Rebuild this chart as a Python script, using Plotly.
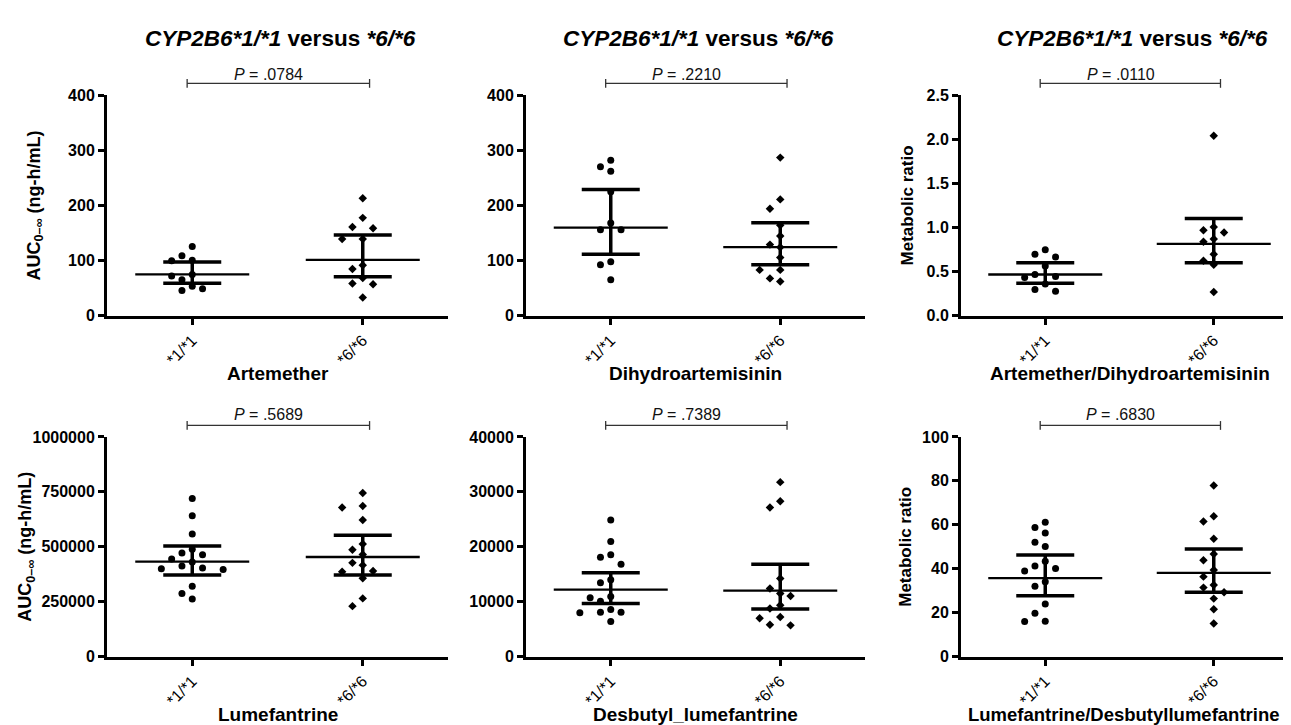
import plotly.graph_objects as go

W, H = 1291, 725
FONT = "Liberation Sans, Arial, sans-serif"

# ---------------- data ----------------
groups = ["*1/*1", "*6/*6"]
x_titles = ["Artemether", "Dihydroartemisinin", "Artemether/Dihydroartemisinin",
            "Lumefantrine", "Desbutyl_lumefantrine", "Lumefantrine/Desbutyllumefantrine"]
p_values = [".0784", ".2210", ".0110", ".5689", ".7389", ".6830"]
y_titles = ["AUC<sub>0–∞</sub> (ng-h/mL)", "", "Metabolic ratio",
            "AUC<sub>0–∞</sub> (ng-h/mL)", "", "Metabolic ratio"]
y_max = [400, 400, 2.5, 1000000, 40000, 100]
y_dtick = [100, 100, 0.5, 250000, 10000, 20]
y_format = ["d", "d", ".1f", "d", "d", "d"]

# Artemether AUC
art_11 = [125.7, 109, 100.9, 100, 74.9, 72, 65.5, 53.7, 49, 46]
art_66 = [213, 177.5, 161, 158.7, 139.2, 139.2, 91.5, 85, 68.5, 58.4, 57.2, 33]
# Dihydroartemisinin AUC
dha_11 = [282, 270, 262, 225, 168, 155.8, 155.8, 97.9, 92.6, 65.5]
dha_66 = [286.7, 211, 194, 164, 144.6, 129, 124.4, 105.6, 83.2, 83.2, 67.8, 62]
# Artemether / DHA ratio
mr1_11 = [0.749, 0.697, 0.667, 0.564, 0.468, 0.446, 0.435, 0.361, 0.299, 0.277]
mr1_66 = [2.04, 1.007, 0.97, 0.944, 0.87, 0.84, 0.697, 0.623, 0.579, 0.269]
# Lumefantrine AUC
lum_11 = [720000, 641000, 558500, 489000, 471000, 463700, 444400, 431000,
          412000, 403000, 400000, 397000, 320000, 287500, 262000]
lum_66 = [745000, 685900, 678500, 622000, 512600, 485900, 465000, 426700,
          416300, 389600, 386700, 357000, 265000, 229700]
# Desbutyl-lumefantrine AUC
dbl_11 = [24889, 20978, 18548, 18074, 16830, 13985, 13452, 10963, 10726,
          10100, 8592, 8059, 8059, 8000, 6400]
dbl_66 = [31763, 28267, 27141, 14222, 12385, 11496, 11022, 9363, 8770,
          7230, 6993, 5807, 5689]
# Lumefantrine / Desbutyl-lumefantrine ratio
mr2_11 = [61.2, 58.8, 56.3, 52.1, 50.1, 43.4, 41.2, 40.1, 39, 34.1, 32,
          23.9, 19.7, 16.1, 16]
mr2_66 = [77.9, 63.9, 61.5, 53.6, 46.7, 43.9, 39.4, 36.4, 32.6, 31.4, 29.3,
          26.4, 21.6, 15.1]

# summary lines: centre and interval per group
art_mean, art_lo, art_hi = [74.9, 101.5], [59, 70.8], [97.3, 146.3]
dha_mean, dha_lo, dha_hi = [159.9, 124.4], [111.5, 92.6], [228.9, 168.7]
mr1_mean, mr1_lo, mr1_hi = [0.468, 0.815], [0.369, 0.601], [0.601, 1.103]
lum_mean, lum_lo, lum_hi = [432600, 453300], [371800, 371800], [503700, 552600]
dbl_mean, dbl_lo, dbl_hi = [12207, 12030], [9660, 8652], [15289, 16830]
mr2_mean, mr2_lo, mr2_hi = [35.7, 38.1], [27.7, 29.3], [46.2, 49.0]

panels = [
    (art_11, art_66, art_mean, art_lo, art_hi),
    (dha_11, dha_66, dha_mean, dha_lo, dha_hi),
    (mr1_11, mr1_66, mr1_mean, mr1_lo, mr1_hi),
    (lum_11, lum_66, lum_mean, lum_lo, lum_hi),
    (dbl_11, dbl_66, dbl_mean, dbl_lo, dbl_hi),
    (mr2_11, mr2_66, mr2_mean, mr2_lo, mr2_hi),
]

# ---------------- layout geometry (pixels) ----------------
cols_px = [(99, 440), (518, 857), (953, 1290)]
rows_px = [(81, 307), (431, 656)]
title_y_px = 23.5
ptext_y_px = [60, 408.5]
pbar_y_px = [69, 419.3]
xtitle_y_px = [366, 715]
xtitle_dx = [0, 0, 0, 0, 0, -6]
ytitle_x_px = [27, None, 899, 19, None, 898]


def px_x(p):
    return p / W


def px_y(p):
    return 1 - p / H


def swarm(values, px_per_y, px_per_x, step_px=10.3, min_dist=10.5):
    order = sorted(range(len(values)), key=lambda i: -values[i])
    placed = []
    res = [0.0] * len(values)
    for i in order:
        yp = values[i] * px_per_y
        chosen = 0
        for k in [0, -1, 1, -2, 2, -3, 3, -4, 4]:
            if all(((k - s) * step_px) ** 2 + (yp - q) ** 2 >= min_dist ** 2 for s, q in placed):
                chosen = k
                break
        placed.append((chosen, yp))
        res[i] = chosen * step_px / px_per_x
    return res


fig = go.Figure()
layout = dict(
    width=W, height=H, margin=dict(l=0, r=0, t=0, b=0),
    paper_bgcolor="white", plot_bgcolor="white", showlegend=False,
    font=dict(family=FONT, color="black"),
)
annotations = []
shapes = []

for i, (g1, g2, mean, lo, hi) in enumerate(panels):
    r, c = divmod(i, 3)
    n = i + 1
    xa = "x" if n == 1 else f"x{n}"
    ya = "y" if n == 1 else f"y{n}"
    x0p, x1p = cols_px[c]
    y0p, y1p = rows_px[r]
    px_per_x = (x1p - x0p) / 2.0
    px_per_y = (y1p - y0p) / y_max[i]

    for gi, (vals, sym, sz) in enumerate([(g1, "circle", 7), (g2, "diamond", 6.5)]):
        offs = swarm(vals, px_per_y, px_per_x)
        fig.add_trace(go.Scatter(
            x=[gi + o for o in offs], y=vals, mode="markers", xaxis=xa, yaxis=ya,
            marker=dict(symbol=sym, size=sz, color="black", line=dict(width=0)),
            hoverinfo="y", cliponaxis=False))
        # mean line
        hw = 57 / px_per_x
        fig.add_trace(go.Scatter(
            x=[gi - hw, gi + hw], y=[mean[gi], mean[gi]], mode="lines",
            xaxis=xa, yaxis=ya, line=dict(color="black", width=2.3), hoverinfo="skip"))
        # interval bar
        cw = 29 / px_per_x
        fig.add_trace(go.Scatter(
            x=[gi - cw, gi + cw, None, gi, gi, None, gi - cw, gi + cw],
            y=[hi[gi], hi[gi], None, hi[gi], lo[gi], None, lo[gi], lo[gi]],
            mode="lines", xaxis=xa, yaxis=ya,
            line=dict(color="black", width=3.5), hoverinfo="skip"))

    axis_common = dict(showline=True, linewidth=3, linecolor="black", showgrid=False,
                       zeroline=False, ticks="outside", ticklen=6, tickwidth=3,
                       tickcolor="black")
    layout["xaxis" if n == 1 else f"xaxis{n}"] = dict(
        axis_common, domain=[px_x(x0p), px_x(x1p)], anchor=ya, range=[-0.5, 1.5],
        tickvals=[0, 1], ticktext=groups, tickangle=-45,
        tickfont=dict(family=FONT, size=16, color="black"))
    layout["yaxis" if n == 1 else f"yaxis{n}"] = dict(
        axis_common, domain=[px_y(y1p), px_y(y0p)], anchor=xa, range=[0, y_max[i]],
        dtick=y_dtick[i], tick0=0, tickformat=y_format[i],
        tickfont=dict(family=FONT, size=16, color="black", weight="bold"))

    cx = (x0p + x1p) / 2
    # row-1 titles
    if r == 0:
        annotations.append(dict(
            x=px_x(cx + 3), y=px_y(title_y_px), xref="paper", yref="paper",
            text="<i>CYP2B6*1/*1</i> versus <i>*6/*6</i>", showarrow=False,
            font=dict(family=FONT, size=22.5, color="black", weight="bold"),
            xanchor="center", yanchor="middle"))
    # x title
    annotations.append(dict(
        x=px_x(cx + xtitle_dx[i]), y=px_y(xtitle_y_px[r]), xref="paper", yref="paper",
        text=x_titles[i], showarrow=False,
        font=dict(family=FONT, size=19 if len(x_titles[i]) < 30 else 18.5,
                  color="black", weight="bold"),
        xanchor="center", yanchor="middle"))
    # y title
    if y_titles[i]:
        annotations.append(dict(
            x=px_x(ytitle_x_px[i]), y=px_y((y0p + y1p) / 2), xref="paper", yref="paper",
            text=y_titles[i], showarrow=False, textangle=-90,
            font=dict(family=FONT, size=18 if "AUC" in y_titles[i] else 17,
                      color="black", weight="bold"),
            xanchor="center", yanchor="middle"))
    # P value bracket
    by = pbar_y_px[r]
    bl, br = -0.03, 1.04
    shapes.append(dict(type="line", xref=xa, yref="paper", x0=bl, x1=br,
                       y0=px_y(by), y1=px_y(by), line=dict(color="#333", width=1.3)))
    for xe in (bl, br):
        shapes.append(dict(type="line", xref=xa, yref="paper", x0=xe, x1=xe,
                           y0=px_y(by - 4.5), y1=px_y(by + 4.5),
                           line=dict(color="#333", width=1.3)))
    annotations.append(dict(
        x=0.5, y=px_y(ptext_y_px[r]), xref=xa, yref="paper", xshift=-9,
        text=f"<i>P</i> = {p_values[i]}", showarrow=False,
        font=dict(family=FONT, size=16, color="#111"),
        xanchor="center", yanchor="middle"))

layout["annotations"] = annotations
layout["shapes"] = shapes
fig.update_layout(**layout)
fig.write_html("out.html")
